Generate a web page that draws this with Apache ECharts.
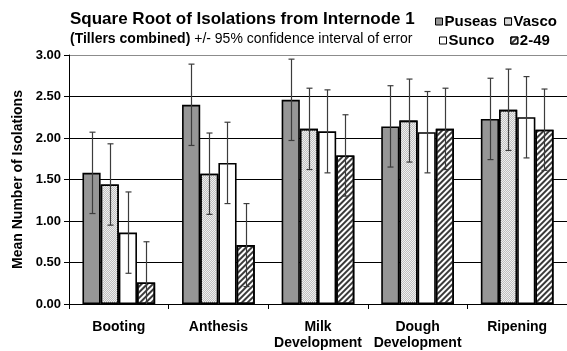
<!DOCTYPE html>
<html>
<head>
<meta charset="utf-8">
<script src="https://cdn.jsdelivr.net/npm/echarts@6/dist/echarts.min.js"></script>
<style>
  html, body { margin: 0; padding: 0; background: #fff; }
  #chart { width: 567px; height: 351px; }
</style>
</head>
<body>
<div id="chart"></div>
<script>
// Growth stages on the category axis
const stages = ['Booting', 'Anthesis', 'Milk\nDevelopment', 'Dough\nDevelopment', 'Ripening'];

// Mean square-root isolations per cultivar
const puseas = [1.58, 2.40, 2.46, 2.14, 2.23];
const vasco  = [1.44, 1.57, 2.11, 2.21, 2.34];
const sunco  = [0.86, 1.70, 2.08, 2.07, 2.25];
const line249 = [0.26, 0.71, 1.79, 2.11, 2.10];

// Half-width of the 95% confidence interval for each bar
const puseasCI = [0.49, 0.49, 0.49, 0.49, 0.49];
const vascoCI  = [0.49, 0.49, 0.49, 0.50, 0.49];
const suncoCI  = [0.49, 0.49, 0.50, 0.49, 0.49];
const line249CI = [0.49, 0.50, 0.49, 0.49, 0.49];

// Value-axis ticks
const yTicks = [0, 0.5, 1.0, 1.5, 2.0, 2.5, 3.0];

const FONT = 'Liberation Sans, Arial, sans-serif';
const CAT_GAP = 0.27;   // fraction of a category left empty around the bar group
const N_SERIES = 4;

const seriesDefs = [
  { name: 'Puseas', values: puseas, ci: puseasCI,
    itemStyle: { color: '#969696' } },
  { name: 'Vasco', values: vasco, ci: vascoCI,
    itemStyle: { color: '#efefef',
      decal: { symbol: 'rect', symbolSize: 1, color: '#c0c0c0',
               dashArrayX: [[1, 1], [0, 1, 1, 0]], dashArrayY: [1, 0] } } },
  { name: 'Sunco', values: sunco, ci: suncoCI,
    itemStyle: { color: '#ffffff' } },
  { name: '2-49', values: line249, ci: line249CI,
    itemStyle: { color: '#ffffff',
      decal: { symbol: 'rect', symbolSize: 1, color: '#3a3a3a',
               dashArrayX: [1, 0], dashArrayY: [1.2, 1.2], rotation: -Math.PI / 4 } } }
];

const barSeries = seriesDefs.map(d => ({
  name: d.name,
  type: 'bar',
  data: d.values,
  barGap: '0%',
  barCategoryGap: (CAT_GAP * 100) + '%',
  itemStyle: Object.assign({ borderColor: '#000', borderWidth: 1.6 }, d.itemStyle),
  emphasis: { disabled: true },
  z: 2
}));

// Error bars drawn through the axis scales, offset to sit on each bar
const errorSeries = seriesDefs.map((d, si) => ({
  name: d.name + ' CI',
  type: 'custom',
  data: d.values.map((v, i) => [i, v - d.ci[i], v + d.ci[i]]),
  z: 5,
  silent: true,
  renderItem: function (params, api) {
    const idx = api.value(0);
    const lo = api.value(1);
    const hi = api.value(2);
    const catW = api.size([1, 0])[0];
    const barW = catW * (1 - CAT_GAP) / N_SERIES;
    const center = api.coord([idx, 0])[0];
    const x = Math.round(center - catW * (1 - CAT_GAP) / 2 + barW * (si + 0.5)) + 0.5;
    const clipped = lo < 0;
    const yLo = api.coord([idx, Math.max(0, lo)])[1];
    const yHi = api.coord([idx, hi])[1];
    const cap = 3;
    const style = { stroke: '#3c3c3c', lineWidth: 1.2 };
    const children = [
      { type: 'line', shape: { x1: x, y1: yLo, x2: x, y2: yHi }, style: style },
      { type: 'line', shape: { x1: x - cap, y1: yHi, x2: x + cap, y2: yHi }, style: style }
    ];
    if (!clipped) {
      children.push({ type: 'line', shape: { x1: x - cap, y1: yLo, x2: x + cap, y2: yLo }, style: style });
    }
    return { type: 'group', children: children };
  }
}));

const chart = echarts.init(document.getElementById('chart'), null, { renderer: 'canvas' });

const legendCommon = {
  orient: 'horizontal',
  icon: 'rect',
  itemWidth: 7,
  itemHeight: 7,
  itemStyle: { borderColor: '#000', borderWidth: 1 },
  textStyle: { fontFamily: FONT, fontWeight: 'bold', fontSize: 15, color: '#000', padding: [0, 0, 0, -3] },
  padding: 0,
  selectedMode: false
};

chart.setOption({
  animation: false,
  aria: { enabled: false, decal: { show: false } },
  title: [
    {
      text: 'Square Root of Isolations from Internode 1',
      left: 70, top: 11,
      padding: 0,
      textStyle: { fontFamily: FONT, fontWeight: 'bold', fontSize: 17, color: '#000' }
    },
    {
      text: '{b|(Tillers combined)} {n|+/- 95% confidence interval of error}',
      left: 70, top: 32,
      padding: 0,
      textStyle: {
        fontFamily: FONT, fontSize: 14, color: '#000',
        rich: {
          b: { fontFamily: FONT, fontWeight: 'bold', fontSize: 14, color: '#000' },
          n: { fontFamily: FONT, fontWeight: 'normal', fontSize: 14, color: '#000' }
        }
      }
    }
  ],
  legend: [
    Object.assign({}, legendCommon, { data: ['Puseas', 'Vasco'], left: 435, top: 14, itemGap: 7 }),
    Object.assign({}, legendCommon, { data: ['Sunco', '2-49'], left: 439, top: 33, itemGap: 16 })
  ],
  grid: { left: 69, top: 55, width: 506, bottom: 45, containLabel: false },
  xAxis: {
    type: 'category',
    data: stages,
    boundaryGap: true,
    axisLine: { lineStyle: { color: '#000', width: 1 } },
    axisTick: { show: true, length: 5, inside: false, lineStyle: { color: '#000' } },
    axisLabel: {
      fontFamily: FONT, fontWeight: 'bold', fontSize: 14, color: '#000',
      lineHeight: 16, margin: 15, interval: 0
    },
    splitLine: { show: false }
  },
  yAxis: {
    type: 'value',
    min: yTicks[0],
    max: yTicks[yTicks.length - 1],
    interval: yTicks[1] - yTicks[0],
    name: 'Mean Number of Isolations',
    nameLocation: 'middle',
    nameGap: 41,
    nameTextStyle: { fontFamily: FONT, fontWeight: 'bold', fontSize: 14, color: '#000' },
    axisLine: { show: true, lineStyle: { color: '#000', width: 1 } },
    axisTick: { show: true, length: 5, inside: false, lineStyle: { color: '#000' } },
    axisLabel: {
      fontFamily: FONT, fontWeight: 'bold', fontSize: 13, color: '#000', margin: 8,
      formatter: v => v.toFixed(2)
    },
    splitLine: {
      show: true,
      lineStyle: { color: ['#000', '#000', '#000', '#000', '#000', '#000', '#8c8c8c'], width: 1 }
    }
  },
  series: barSeries.concat(errorSeries)
});
</script>
</body>
</html>
